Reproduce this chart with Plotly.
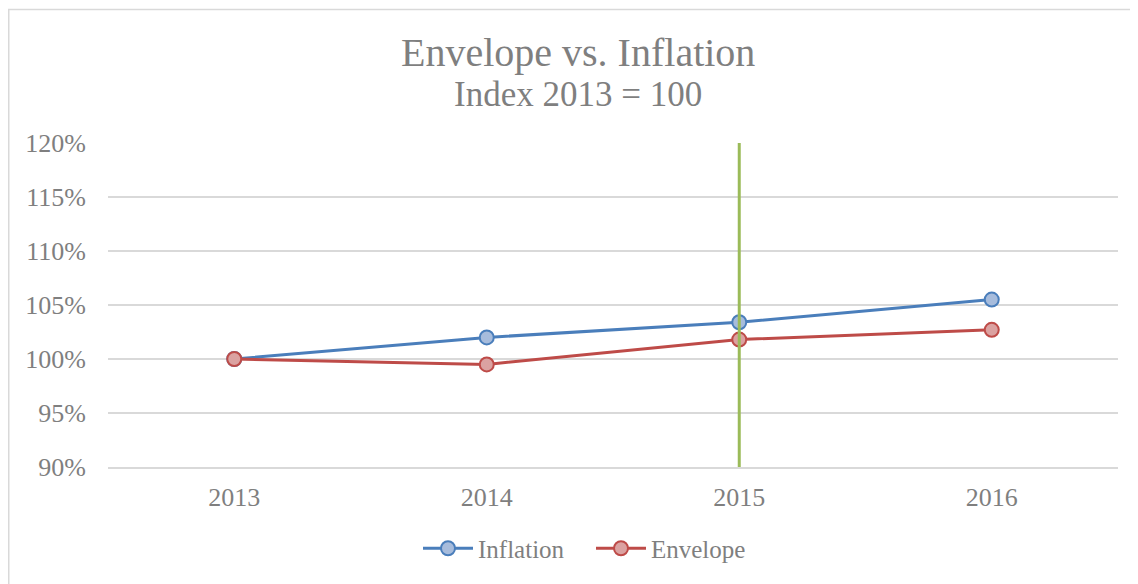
import plotly.graph_objects as go

years = ["2013", "2014", "2015", "2016"]
inflation = [1.000, 1.020, 1.034, 1.055]
envelope = [1.000, 0.995, 1.018, 1.027]
y_ticks = [0.90, 0.95, 1.00, 1.05, 1.10, 1.15, 1.20]
y_tick_labels = ["90%", "95%", "100%", "105%", "110%", "115%", "120%"]
marker_year_index = years.index("2015")

FONT = "Liberation Serif"
GRAY = "#7f7f7f"

fig = go.Figure()
fig.add_trace(go.Scatter(
    x=years, y=inflation, name="Inflation", mode="lines+markers",
    line=dict(color="#4a7ebb", width=3),
    marker=dict(size=14, color="#a7bcdc", line=dict(color="#4a7ebb", width=2)),
))
fig.add_trace(go.Scatter(
    x=years, y=envelope, name="Envelope", mode="lines+markers",
    line=dict(color="#be4b48", width=3),
    marker=dict(size=14, color="#dba2a1", line=dict(color="#be4b48", width=2)),
))

# figure is drawn at an 8px page offset
W, H = 1130, 576
L, R, T, B = 100, 20, 135, 115
pw, ph = W - L - R, H - T - B

def px_x(p):
    return (p - L) / pw

def px_y(p):
    return (H - B - p) / ph

fig.add_shape(type="line", xref="x", yref="paper", x0=marker_year_index, x1=marker_year_index,
              y0=0, y1=1, line=dict(color="#9bbb59", width=3))
fig.add_shape(type="rect", xref="paper", yref="paper", x0=px_x(0.75), x1=px_x(1200),
              y0=px_y(700), y1=px_y(0.75), line=dict(color="#d9d9d9", width=1.5), layer="below")

fig.add_annotation(text="Envelope vs. Inflation", xref="paper", yref="paper",
                   x=px_x(570), y=px_y(44), xanchor="center", yanchor="middle", showarrow=False,
                   font=dict(family=FONT, size=40, color=GRAY))
fig.add_annotation(text="Index 2013 = 100", xref="paper", yref="paper",
                   x=px_x(570), y=px_y(86), xanchor="center", yanchor="middle", showarrow=False,
                   font=dict(family=FONT, size=35, color=GRAY))

fig.update_layout(
    width=W, height=H,
    margin=dict(l=L, r=R, t=T, b=B),
    paper_bgcolor="white", plot_bgcolor="white",
    font=dict(family=FONT, size=25, color=GRAY),
    showlegend=True,
    legend=dict(orientation="h", x=px_x(583), xanchor="center", y=px_y(543), yanchor="middle",
                font=dict(family=FONT, size=25, color=GRAY), itemwidth=50,
                entrywidth=108),
    xaxis=dict(type="category", range=[-0.5, 3.5], showgrid=False, zeroline=False,
               showline=True, linecolor="#d9d9d9", linewidth=1.5, ticks="",
               ticklabelstandoff=6, tickfont=dict(size=26, color=GRAY)),
    yaxis=dict(range=[0.90, 1.20], tickvals=y_ticks, ticktext=y_tick_labels,
               showgrid=True, gridcolor="#d9d9d9", gridwidth=1.5, zeroline=False,
               showline=False, ticks="", ticklabelstandoff=21,
               tickfont=dict(size=26, color=GRAY)),
)

fig.write_html("out.html")
